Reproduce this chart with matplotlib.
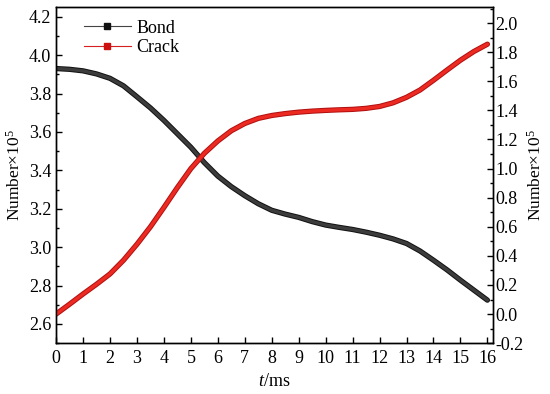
import matplotlib
matplotlib.use("Agg")
import matplotlib.pyplot as plt
import matplotlib.patheffects as pe
from matplotlib.lines import Line2D
from matplotlib.ticker import MultipleLocator, FormatStrFormatter

plt.rcParams['font.family'] = ['Liberation Serif', 'DejaVu Serif']
plt.rcParams['mathtext.fontset'] = 'custom'
plt.rcParams['mathtext.rm'] = 'Liberation Serif'
plt.rcParams['mathtext.it'] = 'Liberation Serif:italic'

t = [0, 0.5, 1, 1.5, 2, 2.5, 3, 3.5, 4, 4.5, 5, 5.5, 6, 6.5, 7, 7.5, 8,
     8.5, 9, 9.5, 10, 10.5, 11, 11.5, 12, 12.5, 13, 13.5, 14, 14.5, 15, 15.5, 16]
bond = [3.930, 3.926, 3.918, 3.902, 3.879, 3.840, 3.783, 3.725, 3.660, 3.590,
        3.520, 3.440, 3.370, 3.315, 3.268, 3.226, 3.192, 3.172, 3.155, 3.133,
        3.115, 3.103, 3.092, 3.078, 3.062, 3.043, 3.019, 2.980, 2.932, 2.882,
        2.828, 2.776, 2.724]
crack = [0.000, 0.068, 0.138, 0.205, 0.276, 0.370, 0.480, 0.600, 0.733, 0.870,
         1.000, 1.105, 1.190, 1.260, 1.310, 1.345, 1.365, 1.378, 1.388, 1.395,
         1.400, 1.404, 1.407, 1.414, 1.427, 1.452, 1.490, 1.540, 1.607, 1.677,
         1.745, 1.805, 1.855]

fig = plt.figure(figsize=(5.5, 3.94), dpi=100)
ax = fig.add_axes([0.102, 0.129, 0.794, 0.853])
ax2 = ax.twinx()

ax.plot(t, bond, color='#3c3c3c', lw=2.4,
        path_effects=[pe.Stroke(linewidth=3.8, foreground='#111111'), pe.Normal()],
        solid_capstyle='round', solid_joinstyle='round')
ax2.plot(t, crack, color='#ec2a22', lw=2.4,
         path_effects=[pe.Stroke(linewidth=3.8, foreground='#b01010'), pe.Normal()],
         solid_capstyle='round', solid_joinstyle='round')

ax.set_xlim(0, 16.2)
ax.set_ylim(2.5, 4.25)
ax2.set_ylim(-0.2, 2.11)
ax.set_xticks(range(0, 17))
ax.yaxis.set_major_locator(MultipleLocator(0.2))
ax.yaxis.set_minor_locator(MultipleLocator(0.1))
ax2.yaxis.set_major_locator(MultipleLocator(0.2))
ax2.yaxis.set_minor_locator(MultipleLocator(0.1))
ax.yaxis.set_major_formatter(FormatStrFormatter('%.1f'))
ax2.yaxis.set_major_formatter(FormatStrFormatter('%.1f'))

for a in (ax, ax2):
    a.tick_params(which='major', direction='in', length=4.5, width=1, labelsize=13)
    a.tick_params(which='minor', direction='in', length=2.5, width=1)
    for s in a.spines.values():
        s.set_linewidth(1)
ax.tick_params(axis='x', pad=5)
ax2.tick_params(axis='y', pad=2)

ax.set_xlabel(r'$t$/ms', fontsize=13)
ax.set_ylabel(r'Number×10$^5$', fontsize=12.5, labelpad=4)
ax2.set_ylabel(r'Number×10$^5$', fontsize=12.5, labelpad=2)

handles = [Line2D([0], [0], color='#444444', lw=0.8, marker='s', markersize=4,
                  markerfacecolor='#111111', markeredgecolor='#111111'),
           Line2D([0], [0], color='#d42020', lw=0.8, marker='s', markersize=4,
                  markerfacecolor='#cc1010', markeredgecolor='#cc1010')]
ax.legend(handles, ['Bond', 'Crack'], loc='upper left', frameon=False,
          fontsize=13, handlelength=2.6, handletextpad=0.3, borderaxespad=0.3,
          bbox_to_anchor=(0.035, 1.0), labelspacing=0.15)

fig.savefig('out.png', dpi=100)
